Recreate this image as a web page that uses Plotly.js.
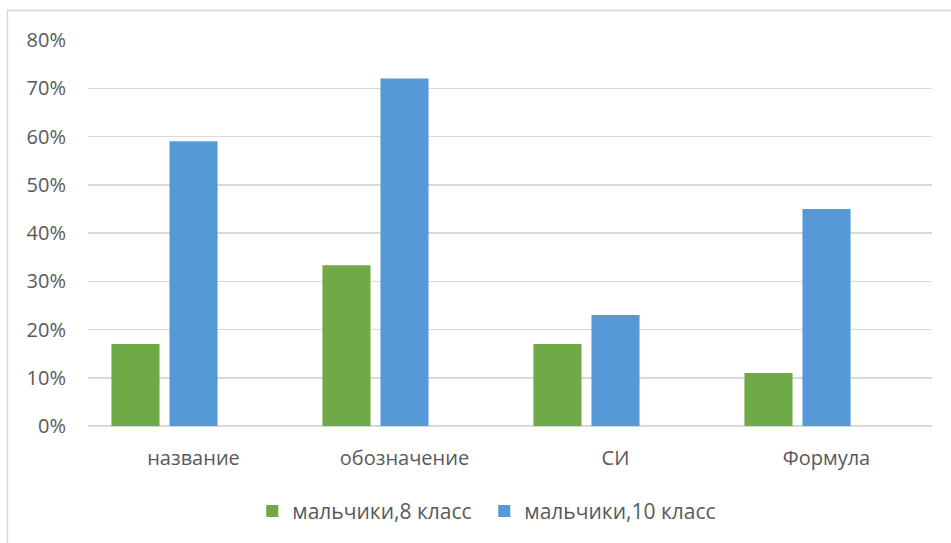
<!DOCTYPE html>
<html>
<head>
<meta charset="utf-8">
<script src="https://cdn.plot.ly/plotly-3.0.1.min.js"></script>
<style>html,body{margin:0;padding:0;background:#fff;}#chart{width:951px;height:543px;}</style>
</head>
<body>
<div id="chart"></div>
<script>
const categories = ["название", "обозначение", "СИ", "Формула"];
const seriesNames = ["мальчики,8 класс", "мальчики,10 класс"];
const boys8 = [0.17, 0.333, 0.17, 0.11];
const boys10 = [0.59, 0.72, 0.23, 0.45];
const tickVals = [0, 0.1, 0.2, 0.3, 0.4, 0.5, 0.6, 0.7, 0.8];

const yFont = {family: "Open Sans, sans-serif", size: 20, color: "#595959"};
const xFont = {family: "Open Sans, sans-serif", size: 20, color: "#595959"};
const legFont = {family: "Open Sans, sans-serif", size: 21, color: "#595959"};

const traces = [
  {type: "bar", name: seriesNames[0], x: categories, y: boys8,
   marker: {color: "#6eaa45"}, width: 0.228, offset: -0.389, hoverinfo: "y"},
  {type: "bar", name: seriesNames[1], x: categories, y: boys10,
   marker: {color: "#5599d8"}, width: 0.228, offset: -0.114, hoverinfo: "y"}
];

const layout = {
  width: 951, height: 543,
  margin: {l: 88, r: 19, t: 40, b: 116},
  paper_bgcolor: "#fff", plot_bgcolor: "#fff",
  barmode: "group",
  font: yFont,
  showlegend: true,
  legend: {orientation: "h", x: 0.4695, xanchor: "center", y: -0.165, yanchor: "top",
           font: legFont, itemwidth: 30, traceorder: "normal",
           entrywidth: 187, entrywidthmode: "pixels"},
  xaxis: {type: "category", showgrid: false, showline: false, ticks: "", tickfont: xFont,
          range: [-0.5, 3.5], zeroline: false, ticklabelstandoff: 18},
  yaxis: {range: [0, 0.8], tickvals: tickVals, tickformat: ".0%", showgrid: true,
          gridcolor: "#d9d9d9", gridwidth: 1.5, zeroline: true, zerolinecolor: "#d9d9d9",
          zerolinewidth: 1.5, showline: false, ticks: "", ticklen: 0, tickfont: yFont,
          ticklabelstandoff: 21},
  shapes: [{type: "rect", xref: "paper", yref: "paper",
            x0: -0.0954, x1: 1.2, y0: -0.6, y1: 1.0763,
            line: {color: "#d9d9d9", width: 1.5}, fillcolor: "rgba(0,0,0,0)", layer: "below"}]
};

Plotly.newPlot("chart", traces, layout, {displayModeBar: false, staticPlot: true});
</script>
</body>
</html>
